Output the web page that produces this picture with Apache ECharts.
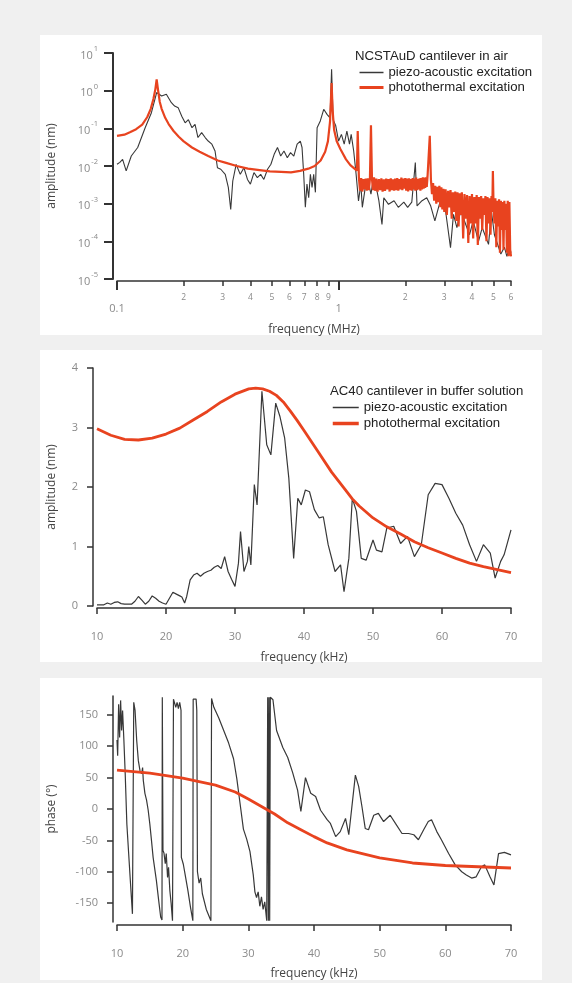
<!DOCTYPE html>
<html>
<head>
<meta charset="utf-8">
<script src="https://cdn.jsdelivr.net/npm/echarts@6/dist/echarts.min.js"></script>
<style>
  html, body { margin: 0; padding: 0; background: #f0f0f0; }
  .panel { position: absolute; left: 40px; width: 502px; background: #fff; }
  #chart { position: absolute; left: 0; top: 0; width: 572px; height: 983px; }
</style>
</head>
<body>
<div class="panel" style="top:35px;height:300px"></div>
<div class="panel" style="top:350px;height:312px"></div>
<div class="panel" style="top:678px;height:302px"></div>
<div id="chart"></div>
<script>
// --- panel 1: NCSTAuD cantilever in air (log-log) ---
const airPiezoFreq = [0.100,0.103,0.106,0.110,0.116,0.124,0.134,0.143,0.151,0.155,
  0.159,0.167,0.176,0.182,0.189,0.196,0.203,0.210,0.218,0.225,
  0.232,0.241,0.250,0.258,0.268,0.277,0.284,0.294,0.308,0.318,
  0.326,0.333,0.345,0.360,0.374,0.388,0.400,0.415,0.430,0.445,
  0.460,0.478,0.495,0.512,0.530,0.548,0.567,0.587,0.607,0.628,
  0.650,0.672,0.684,0.696,0.708,0.720,0.733,0.746,0.759,0.772,
  0.786,0.800,0.827,0.857,0.887,0.915,0.930,0.945,0.970,1.00,
  1.03,1.06,1.09,1.12,1.14,1.17,1.20,1.23,1.26,1.28,
  1.32,1.36,1.40,1.43,1.47,1.52,1.57,1.60,1.68,1.78,
  1.86,1.97,2.05,2.14,2.22,2.26,2.38,2.50,2.60,2.72,
  2.88,3.04,3.20,3.30,3.42,3.56,3.90,4.05,4.28,4.45,
  4.75,4.90,5.05,5.20,5.40,5.60,5.75,5.90,6.00];
const airPiezoAmp = [0.0111,0.0125,0.015,0.0074,0.0184,0.031,0.104,0.26,0.89,0.80,
  0.72,0.80,0.48,0.39,0.35,0.21,0.14,0.17,0.104,0.128,
  0.057,0.077,0.057,0.046,0.038,0.025,0.009,0.0082,0.006,0.0027,
  0.0007,0.004,0.011,0.006,0.009,0.0044,0.0033,0.0067,0.0049,0.006,
  0.0044,0.0082,0.0111,0.0204,0.031,0.0184,0.025,0.0166,0.0226,0.0184,
  0.038,0.046,0.031,0.006,0.0008,0.0033,0.00144,0.006,0.0027,0.006,
  0.002,0.104,0.157,0.32,0.235,0.19,3.7,0.17,0.12,0.046,
  0.069,0.038,0.085,0.038,0.069,0.025,0.006,0.00118,0.0033,0.0008,
  0.0027,0.004,0.0018,0.004,0.0033,0.0012,0.00028,0.00144,0.00096,0.0012,
  0.0008,0.0011,0.0008,0.0011,0.0123,0.00087,0.0012,0.00144,0.0009,0.00035,
  0.0012,0.00064,0.000068,0.00052,0.00023,0.00064,0.00015,0.00035,0.0001,0.00023,
  0.000083,0.0006,0.00015,0.00009,0.000046,0.00007,0.00004,0.000068,0.00005];

const airPhotoFreq = [0.100,0.108,0.115,0.122,0.130,0.137,0.142,0.146,0.149,0.151,
  0.153,0.156,0.159,0.165,0.171,0.180,0.190,0.200,0.218,0.236,
  0.258,0.285,0.308,0.347,0.390,0.440,0.490,0.550,0.610,0.670,
  0.730,0.780,0.830,0.870,0.895,0.915,0.930,0.940,0.955,0.980,
  1.02,1.08,1.13,1.18,1.21,1.22,1.235,
  1.25,1.265,1.28,1.295,1.31,1.325,1.34,1.355,1.37,1.385,
  1.40,1.415,1.43,1.445,1.46,1.48,1.50,1.52,1.54,1.56,
  1.58,1.60,1.62,1.64,1.66,1.68,1.70,1.72,1.74,1.76,
  1.78,1.80,1.82,1.84,1.86,1.88,1.90,1.92,1.94,1.96,
  1.98,2.00,2.02,2.04,2.06,2.08,2.10,2.12,2.14,2.16,
  2.18,2.20,2.22,2.24,2.26,2.28,2.30,2.32,2.34,2.36,
  2.38,2.40,2.42,2.44,2.46,2.48,2.50,2.52,2.55,2.58,
  2.61,2.64,2.67,2.70,2.73,2.76,2.79,2.82,2.85,2.88,
  2.91,2.94,2.97,3.00,3.04,3.08,3.12,3.16,3.20,3.24,
  3.28,3.32,3.36,3.40,3.44,3.48,3.52,3.56,3.60,3.65,
  3.70,3.75,3.80,3.85,3.90,3.95,4.00,4.05,4.10,4.15,
  4.20,4.25,4.30,4.35,4.40,4.45,4.50,4.55,4.60,4.65,
  4.70,4.75,4.80,4.85,4.90,4.94,4.97,5.00,5.05,5.10,
  5.15,5.20,5.25,5.30,5.35,5.40,5.45,5.50,5.55,5.60,
  5.65,5.70,5.75,5.80,5.85,5.90,5.95,6.00];
const airPhotoAmp = [0.063,0.068,0.08,0.095,0.125,0.2,0.33,0.6,1.1,2.0,
  1.1,0.5,0.33,0.19,0.13,0.085,0.06,0.045,0.031,0.024,
  0.0184,0.014,0.0123,0.0100,0.0085,0.0078,0.0072,0.0070,0.0068,0.0074,
  0.0085,0.010,0.014,0.024,0.045,0.15,1.6,0.3,0.09,0.046,
  0.028,0.015,0.0105,0.0085,0.0075,0.085,0.0049,
  0.0022,0.0048,0.0021,0.0045,0.0024,0.0046,0.0022,0.0047,0.0023,0.0045,
  0.12,0.0045,0.0023,0.0050,0.0022,0.0046,0.0021,0.0045,0.0023,0.0047,
  0.0021,0.0044,0.0022,0.0046,0.0024,0.0045,0.0021,0.0047,0.0023,0.0044,
  0.0022,0.0046,0.0023,0.0048,0.0022,0.0045,0.0024,0.0049,0.0023,0.0046,
  0.0025,0.0048,0.0022,0.0046,0.0021,0.0047,0.0023,0.0045,0.0022,0.0048,
  0.0024,0.0046,0.0022,0.0049,0.0023,0.0045,0.0024,0.0047,0.0022,0.0048,
  0.0024,0.0050,0.0025,0.0049,0.0026,0.0050,0.0028,0.0052,0.0055,0.063,
  0.0045,0.0018,0.0035,0.0012,0.0030,0.0010,0.0028,0.0011,0.0030,0.0008,
  0.0027,0.0007,0.0025,0.0006,0.0024,0.0005,0.0022,0.0008,0.0023,0.0004,
  0.0020,0.0006,0.0021,0.00035,0.0020,0.00025,0.0019,0.0005,0.0020,0.00012,
  0.0018,0.0004,0.0017,0.00009,0.0016,0.0003,0.0018,0.00012,0.0015,0.0003,
  0.0017,0.00008,0.0015,0.0004,0.0016,0.0002,0.0014,0.0005,0.0016,0.0001,
  0.0015,0.0003,0.0014,0.00015,0.0016,0.0006,0.0074,0.0012,0.0003,0.0014,
  0.00007,0.0012,0.00025,0.0013,0.00005,0.0012,0.0002,0.0011,0.00006,0.0012,
  0.0002,0.0010,0.00005,0.0012,0.00004,0.0011,0.00006,0.00004];

const airFreqMajor = [0.1, 1];
const airFreqMinor = [0.2, 0.3, 0.4, 0.5, 0.6, 0.7, 0.8, 0.9, 2, 3, 4, 5, 6];
const airAmpTicks = [1e-5, 1e-4, 1e-3, 1e-2, 1e-1, 1, 10];

// --- panel 2: AC40 cantilever in buffer solution, amplitude ---
const bufPiezoFreq = [10,11,11.5,12,12.5,13,13.5,14,15,15.5,16,16.5,17,17.5,18,18.5,19,19.5,20,20.5,
  21,21.5,22,22.3,22.7,23,23.5,24,24.5,25,25.5,26,26.5,27,27.5,28,28.5,29,29.5,30,
  30.5,30.8,31.3,31.8,32,32.3,32.8,33.2,33.9,34.6,35.2,35.9,36.5,37.2,37.8,38.5,39.1,39.6,40.2,40.8,
  41.5,42.2,42.8,43.5,44.5,45.3,45.8,46.5,47.0,47.6,48.3,49,50,50.5,51.3,52,53,54,55,56,
  57,58,59,60,61,62,63,64,65,66,67,67.7,68.5,69,70];
const bufPiezoAmp = [0.02,0.02,0.05,0.03,0.06,0.07,0.04,0.03,0.03,0.08,0.16,0.1,0.03,0.08,0.17,0.13,0.08,0.05,0.03,0.13,
  0.23,0.2,0.17,0.15,0.05,0.16,0.44,0.52,0.55,0.50,0.55,0.58,0.6,0.65,0.68,0.63,0.83,0.58,0.45,0.33,
  0.72,1.25,0.58,0.75,1.0,0.69,2.04,1.70,3.61,2.71,2.54,3.41,3.19,2.82,2.15,0.80,1.81,1.70,1.95,1.92,
  1.62,1.48,1.50,1.03,0.58,0.69,0.24,0.80,1.81,1.59,0.80,0.77,1.11,0.94,0.91,1.31,1.34,1.05,1.17,0.83,
  1.03,1.87,2.06,2.04,1.81,1.56,1.36,1.03,0.75,1.03,0.89,0.47,0.75,0.86,1.28];
const bufPhotoFreq = [10,12,14,16,18,20,22,24,26,28,30,32,33,34,35,36,37,38,39,40,
  42,44,46,47,48,50,52,54,56,58,60,62,64,66,68,70];
const bufPhotoAmp = [2.98,2.87,2.80,2.79,2.82,2.89,2.99,3.13,3.27,3.43,3.56,3.65,3.66,3.65,3.61,3.54,3.43,3.28,3.12,2.95,
  2.60,2.25,1.95,1.80,1.68,1.48,1.33,1.21,1.08,0.98,0.89,0.80,0.72,0.66,0.61,0.56];

// --- panel 3: AC40 cantilever in buffer solution, phase ---
const phasePiezoFreq = [10.0,10.1,10.25,10.4,10.55,10.7,10.85,11.05,11.25,11.5,
  12.0,12.35,12.55,12.75,13.0,13.25,13.5,13.75,13.9,14.0,
  14.25,14.5,14.75,15.0,15.25,15.5,16.0,16.35,16.65,16.85,
  16.9,17.0,17.15,17.35,17.5,17.7,17.85,18.05,18.25,18.45,
  18.6,18.75,18.95,19.15,19.35,19.55,19.75,19.8,20.1,20.45,
  20.8,21.2,21.55,21.6,21.75,21.9,22.05,22.15,22.25,22.5,
  22.75,23.0,23.6,24.3,24.4,24.75,25.5,26.25,27.0,27.75,
  28.25,28.75,29.25,29.75,30.25,30.75,31.0,31.25,31.5,31.75,
  32.0,32.25,32.5,32.8,32.95,33.05,33.15,33.25,33.35,33.75,
  34.3,35.25,36.0,36.75,37.5,38.0,38.7,39.5,40.25,41.0,
  42.0,42.5,43.3,44.0,44.8,45.3,46.3,46.8,47.3,47.8,
  48.3,49.1,49.8,50.6,51.6,52.4,53.4,54.4,55.2,55.9,
  56.7,57.4,57.9,58.7,59.4,60.5,61.5,62.5,63.2,64.0,
  64.7,65.5,66.0,66.8,67.4,68.1,69.0,70.0];
const phasePiezoDeg = [110,85,167,114,173,125,157,109,56,-24,
  -109,-167,170,157,109,77,61,56,66,46,
  25,14,-2,-24,-50,-77,-114,-146,-172,-177,
  178,-66,-70,-87,-71,-109,-93,-130,-151,-178,
  175,172,162,170,160,170,157,-77,-88,-109,
  -130,-157,-178,175,178,173,175,157,-100,-118,
  -110,-135,-160,-178,176,162,145,125,105,80,
  48,8,-32,-48,-68,-105,-132,-141,-132,-155,
  -140,-160,-148,-178,178,-178,178,-178,178,174,
  125,98,82,58,30,-4,50,25,20,-2,
  -17,-23,-44,-36,-15,-41,54,36,4,-31,
  -33,-10,-7,-20,-10,-23,-39,-39,-41,-49,
  -33,-20,-17,-36,-49,-71,-89,-100,-105,-110,
  -108,-92,-89,-108,-121,-71,-69,-73];
const phasePhotoFreq = [10,15,20,25,28,30,32,34,36,38,40,42,45,50,55,60,65,70];
const phasePhotoDeg = [62,57,49,38,27,16,4,-8,-22,-33,-44,-54,-65,-78,-86,-90,-92,-94];
const phaseTicks = [-150, -100, -50, 0, 50, 100, 150];

const PIEZO = 'piezo-acoustic excitation';
const PHOTO = 'photothermal excitation';
const INK = '#383838';
const RED = '#e8431f';
const LABEL = '#8a8a8a';
const AXIS = '#333333';
const FONT = 'Open Sans';

function pairs(xs, ys) {
  return xs.map((x, i) => [x, ys[i]]);
}

function isMajor(v) {
  return airFreqMajor.some((m) => Math.abs(m - v) < 1e-9);
}

const chart = echarts.init(document.getElementById('chart'));

const axisLine = { onZero: false, lineStyle: { color: AXIS, width: 1.5 } };
const tickStyle = { color: AXIS, width: 1.5 };
const nameStyle = { fontFamily: FONT, fontSize: 12, color: '#444' };
const labelStyle = { fontFamily: FONT, fontSize: 11, color: LABEL };

const lineSeries = (name, x, y, data, color, width) => ({
  name: name,
  type: 'line',
  xAxisIndex: x,
  yAxisIndex: y,
  data: data,
  symbol: 'none',
  showSymbol: false,
  lineStyle: { color: color, width: width },
  itemStyle: { color: color },
  emphasis: { disabled: true },
  silent: true,
});

const legendText = { fontFamily: 'Liberation Sans', fontSize: 13.2, color: '#222', lineHeight: 15 };
const titleText = { fontFamily: 'Liberation Sans', fontSize: 13.2, fontWeight: 'normal', color: '#222' };
// legend keys are just the line, no marker
const hideMarker = { opacity: 0 };

const option = {
  backgroundColor: 'transparent',
  animation: false,
  title: [
    { text: 'NCSTAuD cantilever in air', left: 355, top: 50, padding: 0, textStyle: titleText },
    { text: 'AC40 cantilever in buffer solution', left: 330, top: 385, padding: 0, textStyle: titleText },
  ],
  legend: [
    { left: 358, top: 65, orient: 'vertical', padding: 0, itemGap: 0, itemWidth: 24, itemHeight: 15,
      selectedMode: false, textStyle: legendText,
      data: [
        { name: PIEZO, itemStyle: hideMarker, lineStyle: { width: 1.5 } },
        { name: PHOTO, itemStyle: hideMarker, lineStyle: { width: 3 } },
      ] },
    { left: 331, top: 400, orient: 'vertical', padding: 0, itemGap: 1, itemWidth: 26, itemHeight: 15,
      selectedMode: false, textStyle: legendText,
      data: [
        { name: PIEZO, itemStyle: hideMarker, lineStyle: { width: 1.5 } },
        { name: PHOTO, itemStyle: hideMarker, lineStyle: { width: 3.5 } },
      ] },
  ],
  grid: [
    { left: 117, right: 61, top: 53, bottom: 704 },
    { left: 97, right: 61, top: 368, bottom: 377 },
    { left: 117, right: 61, top: 696, bottom: 61 },
  ],
  xAxis: [
    {
      gridIndex: 0, type: 'log', logBase: 10, min: 0.1, max: 6, offset: 2, position: 'bottom',
      name: 'frequency (MHz)', nameLocation: 'middle', nameGap: 43, nameTextStyle: nameStyle,
      axisLine: axisLine,
      axisTick: { customValues: airFreqMinor, length: 5, lineStyle: tickStyle },
      axisLabel: {
        customValues: airFreqMajor.concat(airFreqMinor),
        margin: 12,
        formatter: function (v) {
          if (isMajor(v)) return '{maj|' + (v < 0.5 ? '0.1' : '1') + '}';
          const d = v < 1 ? Math.round(v * 10) : Math.round(v);
          return '{mn|' + d + '}';
        },
        rich: {
          maj: { fontFamily: FONT, fontSize: 11, color: LABEL, padding: [10, 0, 0, 0] },
          mn: { fontFamily: FONT, fontSize: 8.5, color: LABEL },
        },
      },
      splitLine: { show: false },
    },
    {
      // longer ticks for the decades 0.1 and 1
      gridIndex: 0, type: 'log', logBase: 10, min: 0.1, max: 6, offset: 2, position: 'bottom',
      axisLine: { show: false, onZero: false },
      axisTick: { customValues: airFreqMajor, length: 9, lineStyle: { color: AXIS, width: 2 } },
      axisLabel: { show: false },
      splitLine: { show: false },
    },
    {
      gridIndex: 1, type: 'value', min: 10, max: 70, interval: 10, offset: 2,
      name: 'frequency (kHz)', nameLocation: 'middle', nameGap: 44, nameTextStyle: nameStyle,
      axisLine: axisLine,
      axisTick: { length: 6, lineStyle: tickStyle },
      axisLabel: Object.assign({ margin: 23 }, labelStyle),
      splitLine: { show: false },
    },
    {
      gridIndex: 2, type: 'value', min: 10, max: 70, interval: 10, offset: 3,
      name: 'frequency (kHz)', nameLocation: 'middle', nameGap: 43, nameTextStyle: nameStyle,
      axisLine: axisLine,
      axisTick: { length: 6, lineStyle: tickStyle },
      axisLabel: Object.assign({ margin: 23 }, labelStyle),
      splitLine: { show: false },
    },
  ],
  yAxis: [
    {
      gridIndex: 0, type: 'log', logBase: 10, min: 1e-5, max: 10, offset: 4,
      name: 'amplitude (nm)', nameLocation: 'middle', nameGap: 55, nameTextStyle: nameStyle,
      axisLine: { onZero: false, lineStyle: { color: AXIS, width: 2 } },
      axisTick: { customValues: airAmpTicks, length: 9, lineStyle: { color: AXIS, width: 2 } },
      axisLabel: {
        customValues: airAmpTicks,
        margin: 15,
        formatter: function (v) {
          const e = Math.round(Math.log10(v));
          return '{b|10}{s|' + e + '}';
        },
        rich: {
          b: { fontFamily: FONT, fontSize: 11, color: LABEL, verticalAlign: 'bottom', padding: [5, 0, 0, 0] },
          s: { fontFamily: FONT, fontSize: 7.5, color: LABEL, verticalAlign: 'top', padding: [0, 0, 0, 1] },
        },
      },
      splitLine: { show: false },
    },
    {
      gridIndex: 1, type: 'value', min: 0, max: 4, interval: 1, offset: 4,
      name: 'amplitude (nm)', nameLocation: 'middle', nameGap: 35, nameTextStyle: nameStyle,
      axisLine: axisLine,
      axisTick: { length: 6, lineStyle: tickStyle },
      axisLabel: Object.assign({ margin: 15 }, labelStyle),
      splitLine: { show: false },
    },
    {
      gridIndex: 2, type: 'value', min: -180, max: 180, offset: 4,
      name: 'phase (°)', nameLocation: 'middle', nameGap: 55, nameTextStyle: nameStyle,
      axisLine: axisLine,
      axisTick: { customValues: phaseTicks, length: 6, lineStyle: tickStyle },
      axisLabel: Object.assign({ customValues: phaseTicks, margin: 15 }, labelStyle),
      splitLine: { show: false },
    },
  ],
  series: [
    lineSeries(PIEZO, 0, 0, pairs(airPiezoFreq, airPiezoAmp), INK, 1.1),
    lineSeries(PHOTO, 0, 0, pairs(airPhotoFreq, airPhotoAmp), RED, 2.2),
    lineSeries(PIEZO, 2, 1, pairs(bufPiezoFreq, bufPiezoAmp), INK, 1.2),
    lineSeries(PHOTO, 2, 1, pairs(bufPhotoFreq, bufPhotoAmp), RED, 2.8),
    lineSeries(PIEZO, 3, 2, pairs(phasePiezoFreq, phasePiezoDeg), INK, 1.2),
    lineSeries(PHOTO, 3, 2, pairs(phasePhotoFreq, phasePhotoDeg), RED, 2.8),
  ],
};

chart.setOption(option);
</script>
</body>
</html>
